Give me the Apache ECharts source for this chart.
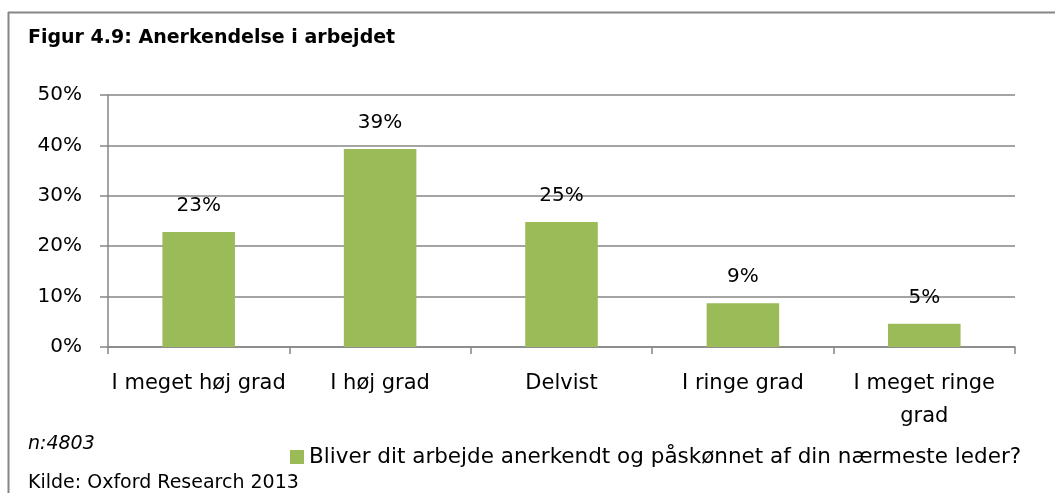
<!DOCTYPE html>
<html>
<head>
<meta charset="utf-8">
<title>Figur 4.9</title>
<script src="https://cdn.jsdelivr.net/npm/echarts@6/dist/echarts.min.js"></script>
<style>
  html, body { margin: 0; padding: 0; background: #fff; }
  #chart { width: 1055px; height: 493px; }
</style>
</head>
<body>
<div id="chart"></div>
<script>
// data
var categories = ['I meget høj grad', 'I høj grad', 'Delvist', 'I ringe grad', 'I meget ringe\ngrad'];
var values = [22.8, 39.3, 24.8, 8.7, 4.6];
var seriesName = 'Bliver dit arbejde anerkendt og påskønnet af din nærmeste leder?';
var yTicks = [0, 10, 20, 30, 40, 50];

var FONT = 'DejaVu Sans';
var chart = echarts.init(document.getElementById('chart'));

var option = {
    animation: false,
    backgroundColor: '#fff',
    textStyle: { fontFamily: FONT },
    title: {
        text: 'Figur 4.9: Anerkendelse i arbejdet',
        left: 23,
        top: 24,
        textStyle: { fontFamily: FONT, fontSize: 19, fontWeight: 'bold', color: '#000' }
    },
    legend: {
        data: [seriesName],
        left: 285,
        top: 441,
        icon: 'rect',
        itemWidth: 14,
        itemHeight: 14,
        itemGap: 8,
        textStyle: { fontFamily: FONT, fontSize: 21.5, color: '#000' }
    },
    grid: { left: 108, right: 40, top: 95, bottom: 146 },
    xAxis: {
        type: 'category',
        data: categories,
        axisLine: { lineStyle: { color: '#868686', width: 1.5 } },
        axisTick: { show: true, length: 7, alignWithLabel: false, lineStyle: { color: '#868686', width: 1.5 } },
        axisLabel: { color: '#000', fontSize: 21, margin: 20, lineHeight: 33, interval: 0 }
    },
    yAxis: {
        type: 'value',
        min: yTicks[0],
        max: yTicks[yTicks.length - 1],
        interval: 10,
        axisLine: { show: true, lineStyle: { color: '#868686', width: 1.5 } },
        axisTick: { show: true, length: 8, lineStyle: { color: '#868686', width: 1.5 } },
        splitLine: { lineStyle: { color: '#868686', width: 1.5 } },
        axisLabel: { color: '#000', fontSize: 20, margin: 26, formatter: '{value}%' }
    },
    series: [{
        name: seriesName,
        type: 'bar',
        data: values,
        barWidth: '40%',
        itemStyle: { color: '#9BBB59' },
        label: {
            show: true,
            position: 'top',
            distance: 16,
            color: '#000',
            fontSize: 20,
            formatter: function (p) { return Math.round(p.value) + '%'; }
        }
    }],
    graphic: [
        { type: 'line', shape: { x1: 8, y1: 12.5, x2: 1055, y2: 12.5 }, style: { stroke: '#868686', lineWidth: 2 } },
        { type: 'line', shape: { x1: 8.5, y1: 12, x2: 8.5, y2: 493 }, style: { stroke: '#868686', lineWidth: 2 } },
        { type: 'text', left: 28, top: 435, style: { text: 'n:4803', fontFamily: FONT, fontSize: 19, fontStyle: 'italic', fill: '#000' } },
        { type: 'text', left: 28, top: 474, style: { text: 'Kilde: Oxford Research 2013', fontFamily: FONT, fontSize: 19, fill: '#000' } }
    ]
};

chart.setOption(option);
</script>
</body>
</html>
